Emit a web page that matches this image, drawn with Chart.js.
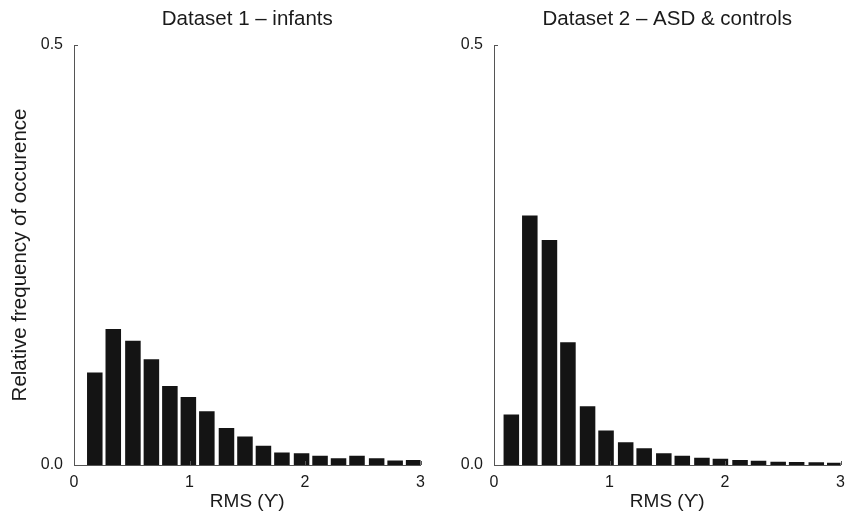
<!DOCTYPE html>
<html>
<head>
<meta charset="utf-8">
<script src="https://cdn.jsdelivr.net/npm/chart.js@4.4.0/dist/chart.umd.min.js"></script>
<style>
  html, body { margin: 0; padding: 0; background: #fff; overflow: hidden; }
  #wrap { position: relative; width: 845px; height: 511px; overflow: hidden; }
  #c1 { position: absolute; left: 0; top: 0; }
  #c2 { position: absolute; left: 430px; top: 0; }
</style>
</head>
<body>
<div id="wrap">
  <canvas id="c1" width="433" height="511"></canvas>
  <canvas id="c2" width="423" height="511"></canvas>
</div>
<script>
// RMS histogram bins (bin centres) and relative frequencies
const infantBins = [0.18, 0.34, 0.51, 0.67, 0.83, 0.99, 1.15, 1.32, 1.48,
                    1.64, 1.80, 1.97, 2.13, 2.29, 2.45, 2.62, 2.78, 2.94];
const infantFreq = [0.110, 0.162, 0.148, 0.126, 0.094, 0.081, 0.064, 0.044, 0.034,
                    0.023, 0.015, 0.014, 0.011, 0.008, 0.011, 0.008, 0.0055, 0.006];

const asdBins = [0.15, 0.31, 0.48, 0.64, 0.81, 0.97, 1.14, 1.30, 1.47,
                 1.63, 1.80, 1.96, 2.13, 2.29, 2.46, 2.62, 2.79, 2.95];
const asdFreq = [0.060, 0.297, 0.268, 0.146, 0.070, 0.041, 0.027, 0.020, 0.014,
                 0.011, 0.0087, 0.0075, 0.006, 0.005, 0.004, 0.0036, 0.0032, 0.0028];

const xTicks = [0, 1, 2, 3];
const yTicks = [0, 0.5];

const FONT = "'Liberation Sans', Arial, Helvetica, sans-serif";
const INK = '#1a1a1a';
const AXIS = '#555';

// short tick marks pointing into the plot area
const innerTicks = {
    id: 'innerTicks',
    afterDraw(chart) {
        const ctx = chart.ctx;
        const x = chart.scales.x, y = chart.scales.y;
        ctx.save();
        ctx.strokeStyle = AXIS;
        ctx.lineWidth = 1;
        ctx.beginPath();
        xTicks.forEach(v => {
            const px = Math.round(x.getPixelForValue(v)) + 0.5;
            ctx.moveTo(px, y.bottom);
            ctx.lineTo(px, y.bottom - 4);
        });
        yTicks.forEach(v => {
            const py = Math.round(y.getPixelForValue(v)) + 0.5;
            ctx.moveTo(x.left, py);
            ctx.lineTo(x.left + 4, py);
        });
        ctx.stroke();
        ctx.restore();
    }
};

function makeHist(canvasId, title, bins, freq, opts) {
    const points = bins.map((b, i) => ({ x: b, y: freq[i] }));
    return new Chart(document.getElementById(canvasId), {
        type: 'bar',
        data: {
            datasets: [{
                data: points,
                backgroundColor: '#141414',
                borderWidth: 0,
                barPercentage: 1,
                categoryPercentage: 0.84
            }]
        },
        options: {
            responsive: false,
            animation: false,
            layout: { padding: { left: 0, right: opts.padRight, top: 0, bottom: 0 } },
            plugins: {
                legend: { display: false },
                tooltip: { enabled: false },
                title: {
                    display: true,
                    fullSize: false,
                    text: title,
                    color: INK,
                    font: { family: FONT, size: 20.5, weight: 'normal' },
                    padding: { top: 7, bottom: 13.4 }
                }
            },
            scales: {
                x: {
                    type: 'linear',
                    offset: false,
                    min: 0,
                    max: 3,
                    afterBuildTicks: s => { s.ticks = xTicks.map(v => ({ value: v })); },
                    afterFit: s => { s.height = 46; },
                    grid: { display: false, drawTicks: false, offset: false },
                    border: { display: true, color: AXIS, width: 1 },
                    ticks: {
                        color: INK,
                        padding: 8,
                        maxRotation: 0,
                        font: { family: FONT, size: 16 },
                        callback: v => String(v)
                    },
                    title: {
                        display: true,
                        text: 'RMS (ϒ)',
                        color: INK,
                        font: { family: FONT, size: 19, lineHeight: 1 },
                        padding: { top: 0, bottom: 0 }
                    }
                },
                y: {
                    min: 0,
                    max: 0.5,
                    afterBuildTicks: s => { s.ticks = yTicks.map(v => ({ value: v })); },
                    afterFit: s => { s.width = opts.yWidth; },
                    grid: { display: false, drawTicks: false },
                    border: { display: true, color: AXIS, width: 1 },
                    ticks: {
                        color: INK,
                        padding: 11,
                        font: { family: FONT, size: 16 },
                        callback: v => Number(v).toFixed(1)
                    },
                    title: {
                        display: opts.yTitle,
                        text: 'Relative frequency of occurence',
                        color: INK,
                        font: { family: FONT, size: 20.5 },
                        padding: { top: 8, bottom: 0 }
                    }
                }
            }
        },
        plugins: [innerTicks]
    });
}

makeHist('c1', 'Dataset 1 – infants', infantBins, infantFreq,
    { yWidth: 74, padRight: 6, yTitle: true });
makeHist('c2', 'Dataset 2 – ASD & controls', asdBins, asdFreq,
    { yWidth: 64, padRight: 4, yTitle: false });
</script>
</body>
</html>
